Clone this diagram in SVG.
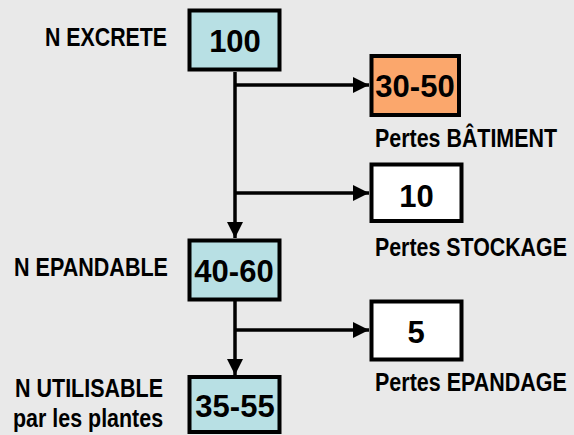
<svg xmlns="http://www.w3.org/2000/svg" width="574" height="435" viewBox="0 0 574 435">
<style>
.box{stroke:#000;stroke-width:4}
.cyan{fill:#b8e0e4}
.orange{fill:#fba76c}
.white{fill:#fff}
.num{font-family:"Liberation Sans",Arial,sans-serif;font-weight:bold;font-size:31px;fill:#000;text-anchor:middle}
.lbl{font-family:"Liberation Sans",Arial,sans-serif;font-weight:bold;font-size:26px;fill:#000}
.ln{stroke:#000;stroke-width:3.5;fill:none}
</style>
<defs>
<marker id="ah" markerUnits="userSpaceOnUse" markerWidth="16" markerHeight="16" viewBox="0 0 16 16" refX="16" refY="8" orient="auto">
<path d="M0,0 L16,8 L0,16 z" fill="#000"/>
</marker>
</defs>
<rect width="574" height="435" fill="#e9e9e9"/>
<g id="connectors">
<path class="ln" d="M235,72 V238" marker-end="url(#ah)"/>
<path class="ln" d="M235,300 V375" marker-end="url(#ah)"/>
<path class="ln" d="M235,85 H369" marker-end="url(#ah)"/>
<path class="ln" d="M235,193 H369" marker-end="url(#ah)"/>
<path class="ln" d="M235,330 H369" marker-end="url(#ah)"/>
</g>
<g id="n-excrete">
<rect class="box cyan" x="189.5" y="10.5" width="90" height="59"/>
<text class="num" x="235" y="52">100</text>
<text class="lbl" transform="translate(45,46) scale(0.82,1)" textLength="148.8" lengthAdjust="spacingAndGlyphs">N EXCRETE</text>
</g>
<g id="pertes-batiment">
<rect class="box orange" x="371.5" y="56" width="87.5" height="59"/>
<text class="num" x="415" y="97">30-50</text>
<text class="lbl" transform="translate(375,147) scale(0.82,1)" textLength="222" lengthAdjust="spacingAndGlyphs">Pertes BÂTIMENT</text>
</g>
<g id="pertes-stockage">
<rect class="box white" x="371.5" y="164.5" width="90" height="56.5"/>
<text class="num" x="416.5" y="207">10</text>
<text class="lbl" transform="translate(375,256) scale(0.82,1)" textLength="234" lengthAdjust="spacingAndGlyphs">Pertes STOCKAGE</text>
</g>
<g id="n-epandable">
<rect class="box cyan" x="189.5" y="240.5" width="90" height="59"/>
<text class="num" x="234" y="282">40-60</text>
<text class="lbl" transform="translate(14,276) scale(0.82,1)" textLength="187.8" lengthAdjust="spacingAndGlyphs">N EPANDABLE</text>
</g>
<g id="pertes-epandage">
<rect class="box white" x="371.5" y="301.5" width="90" height="58"/>
<text class="num" x="416" y="343">5</text>
<text class="lbl" transform="translate(375,391) scale(0.82,1)" textLength="234" lengthAdjust="spacingAndGlyphs">Pertes EPANDAGE</text>
</g>
<g id="n-utilisable">
<rect class="box cyan" x="189.5" y="377" width="90" height="55"/>
<text class="num" x="235" y="417">35-55</text>
<text class="lbl" transform="translate(15,397) scale(0.82,1)" textLength="180.5" lengthAdjust="spacingAndGlyphs">N UTILISABLE</text>
<text class="lbl" transform="translate(13,427) scale(0.82,1)" textLength="183" lengthAdjust="spacingAndGlyphs">par les plantes</text>
</g>
</svg>
